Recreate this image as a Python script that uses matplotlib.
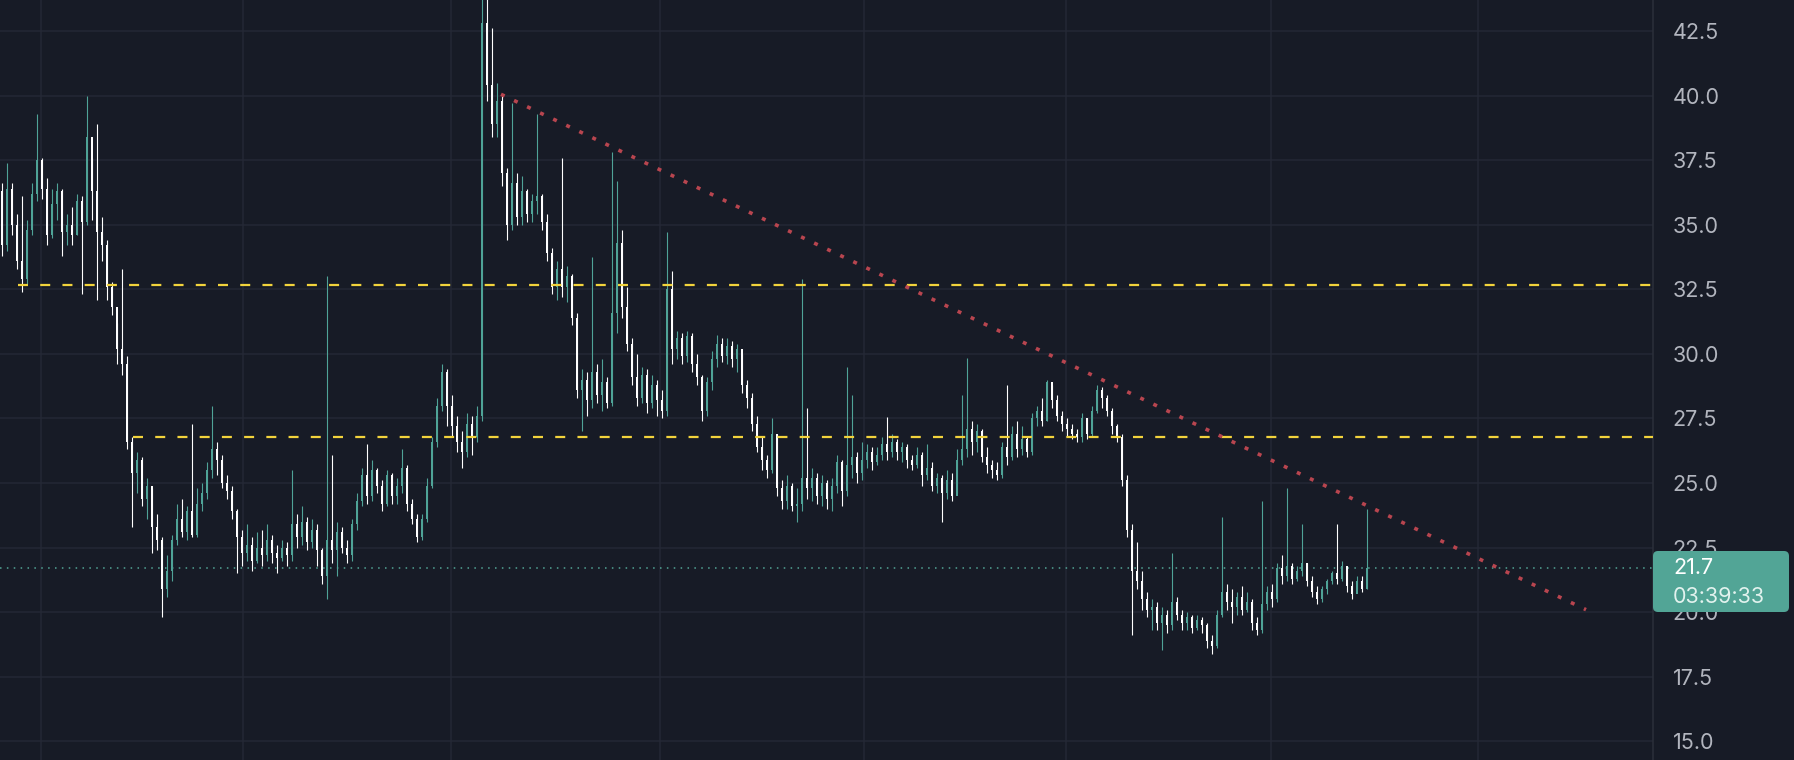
import matplotlib.pyplot as plt
from matplotlib.patches import FancyBboxPatch

# price data, one candle per bar, oldest first
first_open = 36.3
closes = [
    34.2, 36.4, 35.0, 33.6, 32.9, 34.8, 36.2, 37.5, 36.4, 34.6,
    35.8, 36.3, 34.7, 35.0, 34.6, 35.9, 35.1, 38.4, 36.3, 34.7,
    34.2, 32.6, 31.8, 30.2, 29.6, 26.6, 25.4, 25.9, 24.4, 24.9,
    23.3, 22.8, 20.9, 21.6, 22.8, 23.6, 23.1, 23.9, 23.0, 24.2,
    24.6, 25.5, 26.3, 25.9, 25.0, 24.7, 23.9, 22.9, 22.3, 22.6,
    22.0, 22.5, 22.2, 22.8, 22.3, 22.1, 22.5, 22.2, 23.4, 22.9,
    23.5, 22.7, 23.2, 22.4, 21.4, 22.8, 22.4, 23.1, 22.5, 22.2,
    23.4, 24.3, 25.3, 24.5, 25.5, 24.9, 24.2, 25.3, 24.5, 24.9,
    25.6, 24.2, 23.6, 22.9, 23.6, 24.9, 26.6, 28.0, 29.3, 28.0,
    27.2, 26.6, 26.2, 27.3, 26.8, 27.6, 42.8, 40.4, 38.9, 39.8,
    37.0, 35.0, 36.6, 35.3, 36.3, 35.4, 35.9, 36.1, 35.1, 33.9,
    32.6, 33.3, 32.6, 33.0, 31.4, 28.6, 29.0, 28.2, 29.3, 28.4,
    28.9, 28.1, 31.6, 34.3, 31.8, 30.4, 29.1, 28.3, 29.2, 28.1,
    28.8, 28.2, 27.8, 32.5, 30.2, 30.6, 29.9, 30.7, 29.6, 29.1,
    27.8, 28.9, 29.8, 30.4, 29.9, 30.3, 29.8, 30.2, 28.8, 28.3,
    27.3, 26.4, 25.9, 25.5, 26.9, 24.8, 24.3, 24.9, 24.1, 24.2,
    25.2, 24.8, 25.2, 24.5, 25.0, 24.4, 24.9, 25.8, 24.7, 25.7,
    26.0, 25.4, 25.9, 26.2, 25.8, 26.1, 26.5, 26.2, 26.6, 26.2,
    26.4, 25.9, 25.7, 26.1, 25.3, 25.6, 24.9, 25.2, 24.6, 25.1,
    24.5, 25.9, 26.3, 27.1, 26.6, 27.0, 26.0, 25.7, 25.5, 25.3,
    26.4, 26.0, 26.9, 26.3, 26.7, 26.2, 27.5, 27.8, 27.4, 28.9,
    28.2, 27.6, 27.3, 27.1, 26.9, 26.8, 27.5, 26.9, 27.8, 28.6,
    28.3, 27.8, 27.2, 26.8, 25.1, 23.2, 21.6, 21.2, 20.5, 20.1,
    20.2, 19.6, 19.9, 19.5, 20.4, 19.9, 19.6, 19.8, 19.4, 19.7,
    19.5, 18.9, 18.7, 19.9, 20.8, 20.4, 20.2, 20.6, 20.1, 20.4,
    19.6, 19.3, 20.3, 20.8, 20.5, 21.7, 21.4, 21.8, 21.3, 21.6,
    21.9, 21.2, 20.8, 20.5, 20.9, 21.2, 21.5, 21.3, 21.8, 21.0,
    20.7, 21.2, 20.9, 21.7,
]
highs = [
    36.6, 37.4, 36.6, 35.4, 36.1, 35.2, 36.6, 39.3, 37.6, 36.8,
    36.4, 36.6, 36.4, 35.4, 35.7, 36.2, 36.1, 40.0, 37.6, 38.9,
    35.3, 34.4, 32.8, 31.2, 33.3, 29.9, 26.8, 26.2, 26.0, 25.2,
    24.8, 23.8, 22.9, 22.2, 23.0, 24.2, 24.4, 24.1, 27.3, 24.8,
    25.0, 25.8, 28.0, 26.6, 26.1, 25.3, 24.9, 24.0, 23.2, 23.4,
    22.9, 23.1, 23.2, 23.4, 23.0, 22.6, 22.8, 22.7, 25.5, 23.8,
    24.1, 23.7, 23.6, 23.4, 22.5, 33.0, 26.1, 23.5, 23.3, 22.8,
    23.6, 24.6, 25.6, 26.5, 25.9, 25.6, 25.1, 25.5, 25.4, 25.2,
    26.3, 25.7, 24.4, 23.8, 23.8, 25.2, 26.8, 28.3, 29.6, 29.4,
    28.4, 27.6, 27.0, 27.7, 27.6, 28.0, 43.8, 43.8, 42.6, 40.5,
    40.0, 37.2, 39.7, 37.0, 36.9, 36.4, 36.2, 39.3, 36.2, 35.4,
    34.1, 33.6, 37.6, 33.4, 33.1, 31.6, 29.4, 29.3, 33.75, 29.6,
    29.8, 29.1, 37.8, 36.7, 34.8, 32.6, 30.6, 30.0, 29.5, 29.4,
    29.2, 29.0, 28.6, 34.7, 33.2, 30.9, 30.8, 30.9, 30.8, 30.0,
    29.2, 29.1, 30.1, 30.75, 30.6, 30.6, 30.5, 30.4, 30.0, 29.0,
    28.5, 27.6, 26.8, 26.1, 27.5, 26.9, 25.1, 25.3, 25.0, 24.8,
    32.9, 27.9, 25.6, 25.4, 25.3, 25.1, 25.2, 26.1, 25.9, 29.5,
    28.4, 26.2, 26.6, 26.5, 26.4, 26.4, 26.8, 27.55, 26.9, 26.7,
    26.6, 26.5, 26.1, 26.4, 26.2, 26.5, 25.8, 25.4, 25.3, 25.5,
    25.4, 26.3, 28.4, 29.85, 27.4, 27.3, 27.1, 26.4, 25.9, 25.8,
    26.6, 28.8, 27.2, 27.4, 27.2, 26.8, 27.7, 28.0, 28.3, 29.0,
    28.8, 28.4, 27.8, 27.5, 27.3, 27.1, 27.7, 27.5, 28.0, 28.8,
    28.7, 28.4, 27.9, 27.3, 26.9, 25.3, 23.4, 22.7, 21.6, 20.8,
    20.5, 20.4, 20.2, 20.1, 22.3, 20.6, 20.1, 20.0, 19.9, 19.9,
    19.8, 19.6, 19.1, 20.1, 23.7, 21.1, 20.9, 20.8, 21.0, 20.8,
    20.5, 19.8, 24.3, 21.0, 21.1, 21.9, 22.2, 24.8, 21.9, 21.8,
    23.4, 21.9, 21.4, 21.0, 21.0, 21.3, 21.6, 23.4, 22.0, 21.8,
    21.2, 21.4, 21.4, 24.0,
]
lows = [
    33.8, 34.0, 34.6, 33.3, 32.4, 32.7, 34.6, 35.9, 36.0, 34.2,
    34.5, 35.2, 33.8, 34.2, 34.2, 34.6, 32.3, 35.0, 35.2, 32.1,
    33.6, 32.1, 31.5, 29.6, 29.2, 26.3, 23.3, 24.6, 24.1, 23.6,
    22.3, 22.4, 19.8, 20.6, 21.2, 22.6, 22.9, 22.8, 22.9, 22.9,
    23.9, 24.4, 25.2, 25.3, 24.8, 24.4, 23.6, 21.5, 21.8, 22.0,
    21.6, 21.9, 21.8, 22.0, 21.9, 21.5, 22.0, 21.8, 22.0, 22.5,
    22.6, 22.4, 22.5, 21.8, 21.1, 20.5, 21.9, 21.4, 22.3, 21.9,
    22.0, 23.2, 24.1, 24.2, 24.3, 24.6, 23.9, 24.1, 24.2, 24.2,
    24.6, 23.9, 23.4, 22.7, 22.8, 23.5, 24.8, 26.4, 27.8, 27.2,
    26.8, 26.2, 25.6, 26.0, 26.1, 26.6, 27.4, 39.8, 38.4, 38.4,
    36.5, 34.4, 34.8, 35.0, 35.0, 35.1, 35.1, 35.4, 34.8, 33.6,
    32.3, 32.1, 32.2, 32.0, 31.1, 28.3, 27.0, 27.6, 27.9, 28.1,
    27.8, 27.9, 28.0, 30.8, 31.4, 30.1, 28.8, 28.0, 28.1, 27.7,
    27.9, 27.6, 27.5, 27.6, 29.6, 29.8, 29.6, 29.7, 29.3, 28.8,
    27.4, 27.6, 28.6, 29.5, 29.7, 29.6, 29.5, 29.3, 28.5, 27.9,
    27.0, 26.2, 25.5, 25.2, 25.4, 24.5, 24.0, 24.0, 23.9, 23.5,
    23.9, 24.4, 24.3, 24.2, 24.1, 24.0, 23.9, 24.6, 24.1, 24.5,
    25.2, 25.0, 25.1, 25.6, 25.5, 25.7, 25.9, 25.9, 26.0, 25.9,
    25.8, 25.6, 25.5, 25.6, 24.9, 25.1, 24.7, 24.6, 23.5, 24.4,
    24.3, 24.6, 25.7, 26.0, 26.1, 26.2, 25.8, 25.4, 25.2, 25.1,
    25.2, 25.7, 25.9, 26.0, 26.1, 26.0, 26.1, 27.2, 27.2, 27.4,
    27.9, 27.4, 27.0, 26.8, 26.7, 26.6, 26.6, 26.7, 26.8, 27.7,
    27.9, 27.6, 26.9, 26.6, 24.9, 22.9, 19.1, 20.9, 20.1, 19.8,
    19.3, 19.3, 18.55, 19.2, 19.3, 19.7, 19.3, 19.3, 19.2, 19.3,
    19.2, 18.6, 18.4, 18.6, 19.8, 20.1, 19.6, 19.9, 19.9, 20.0,
    19.3, 19.1, 19.2, 20.1, 20.2, 20.4, 21.1, 21.2, 21.1, 21.2,
    21.4, 21.0, 20.6, 20.3, 20.4, 20.7, 21.1, 21.1, 21.2, 20.8,
    20.5, 20.9, 20.8, 20.9,
]

price_ticks = [15.0, 17.5, 20.0, 22.5, 25.0, 27.5, 30.0, 32.5, 35.0, 37.5, 40.0, 42.5]
time_grid = [7.8, 48.2, 89.8, 131.6, 172.4, 212.8, 253.8, 295.2]   # bar index of date lines
levels = [32.65, 26.8]          # horizontal support/resistance
level_start = [3.2, 26.2]       # bar index where each level starts
trend_x = [99.8, 316.8]
trend_y = [40.05, 20.1]
last_price = 21.7
countdown = '03:39:33'

BG = '#171b26'
GRID = '#242835'
UP = '#4fa397'
DOWN = '#ffffff'
TEXT = '#b2b5be'

plt.rcParams['font.family'] = ['Inter', 'DejaVu Sans']

fig = plt.figure(figsize=(17.94, 7.6), dpi=100, facecolor=BG)
ax = fig.add_axes([0, 0, 1653 / 1794, 1])
ax.set_facecolor(BG)

opens = [first_open] + closes[:-1]
xs = list(range(len(closes)))
colors = [UP if c >= o else DOWN for o, c in zip(opens, closes)]
bottoms = [min(o, c) for o, c in zip(opens, closes)]
heights = [max(abs(c - o), 0.06) for o, c in zip(opens, closes)]

# current price line behind the candles
ax.axhline(last_price, color='#52a596', lw=1.1, ls=(0, (1, 3.5)), zorder=1)

ax.vlines(xs, lows, highs, colors=colors, linewidth=0.8, zorder=3)
ax.bar(xs, heights, bottom=bottoms, width=0.55, color=colors, linewidth=0, zorder=3)

# support / resistance levels
for lvl, start in zip(levels, level_start):
    ax.hlines(lvl, start, 400, colors='#f2d33c', lw=1.6, linestyles=(0, (4.5, 5.5)), zorder=4)

# falling trend line
ax.plot(trend_x, trend_y, color='#b8454f', lw=2.6, ls=(0, (1.1, 2.9)), zorder=4)

ax.set_xlim(-0.4, 330.2)
ax.set_ylim(14.28, 43.7)

ax.set_xticks(time_grid)
ax.set_yticks(price_ticks)
ax.set_yticklabels([f'{p:.1f}' for p in price_ticks])
ax.yaxis.tick_right()
ax.tick_params(axis='x', length=0, labelbottom=False)
ax.tick_params(axis='y', length=0, pad=14, labelsize=15.5, labelcolor=TEXT)
ax.grid(True, color=GRID, lw=1.1, zorder=0)
ax.set_axisbelow(True)
for side in ['top', 'left', 'bottom']:
    ax.spines[side].set_visible(False)
ax.spines['right'].set_color('#2a2e39')
ax.spines['right'].set_linewidth(1.2)

# last price label on the price scale
box = FancyBboxPatch((16.53, 1.48), 1.36, 0.61, boxstyle='round,pad=0,rounding_size=0.05',
                     transform=fig.dpi_scale_trans, facecolor='#52a596', edgecolor='none')
fig.patches.append(box)
fig.text(16.73, 1.92, f'{last_price:.1f}', transform=fig.dpi_scale_trans,
         color='white', fontsize=15.5, va='center', ha='left')
fig.text(16.73, 1.63, countdown, transform=fig.dpi_scale_trans,
         color='#e2f2ee', fontsize=15.5, va='center', ha='left')

fig.savefig('out.png', dpi=100, facecolor=BG)
